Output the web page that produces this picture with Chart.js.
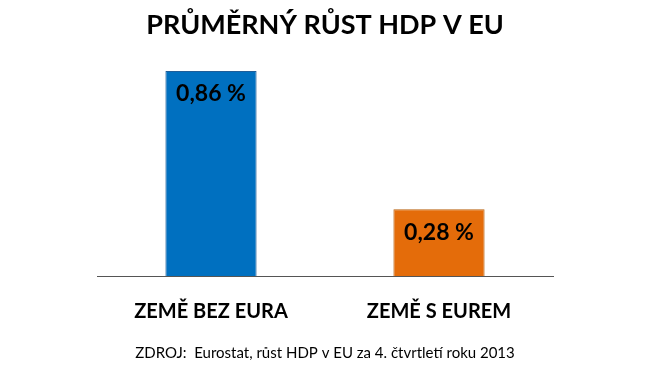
<!DOCTYPE html>
<html>
<head>
<meta charset="utf-8">
<script src="https://cdn.jsdelivr.net/npm/chart.js@4"></script>
<style>
  html, body { margin: 0; padding: 0; background: #fff; }
  #wrap { width: 650px; height: 366px; }
</style>
</head>
<body>
<div id="wrap"><canvas id="chart" width="650" height="366"></canvas></div>
<script>
const categories = ["ZEMĚ BEZ EURA", "ZEMĚ S EUREM"];
const growth = [0.86, 0.28];
const valueLabels = ["0,86 %", "0,28 %"];
const barColors = ["#0070C0", "#E46C0A"];
const barBorders = ["#1F5E99", "#B8620F"];
const titleText = "PRŮMĚRNÝ RŮST HDP V EU";
const sourceText = "ZDROJ:  Eurostat, růst HDP v EU za 4. čtvrtletí roku 2013";

const FONT = "Lato, 'Open Sans', sans-serif";

const valueLabelPlugin = {
    id: "valueLabels",
    afterDatasetsDraw(chart) {
        const ctx = chart.ctx;
        const meta = chart.getDatasetMeta(0);
        ctx.save();
        ctx.fillStyle = "#000";
        ctx.font = "bold 23px " + FONT;
        ctx.textAlign = "center";
        ctx.textBaseline = "middle";
        meta.data.forEach((bar, i) => {
            ctx.fillText(valueLabels[i], bar.x, bar.y + 23);
        });
        ctx.restore();
    }
};

const ctx = document.getElementById("chart").getContext("2d");
new Chart(ctx, {
    type: "bar",
    data: {
        labels: categories,
        datasets: [{
            data: growth,
            backgroundColor: barColors,
            borderColor: barBorders,
            borderWidth: 1,
            borderSkipped: "bottom",
            categoryPercentage: 1,
            barPercentage: 0.4
        }]
    },
    options: {
        responsive: false,
        animation: false,
        layout: { padding: { left: 97, right: 97, top: 0, bottom: 4 } },
        scales: {
            x: {
                grid: { display: false },
                border: { display: true, color: "#555", width: 1 },
                ticks: {
                    color: "#000",
                    font: { family: FONT, size: 20, weight: "bold" },
                    padding: 16
                }
            },
            y: {
                display: false,
                min: 0,
                max: 0.9
            }
        },
        plugins: {
            legend: { display: false },
            tooltip: { enabled: false },
            title: {
                display: true,
                text: titleText,
                color: "#000",
                font: { family: FONT, size: 27, weight: "bold" },
                padding: { top: 9, bottom: 20 }
            },
            subtitle: {
                display: true,
                position: "bottom",
                text: sourceText,
                color: "#000",
                font: { family: FONT, size: 15 },
                padding: { top: 4, bottom: 0 }
            }
        }
    },
    plugins: [valueLabelPlugin]
});
</script>
</body>
</html>
